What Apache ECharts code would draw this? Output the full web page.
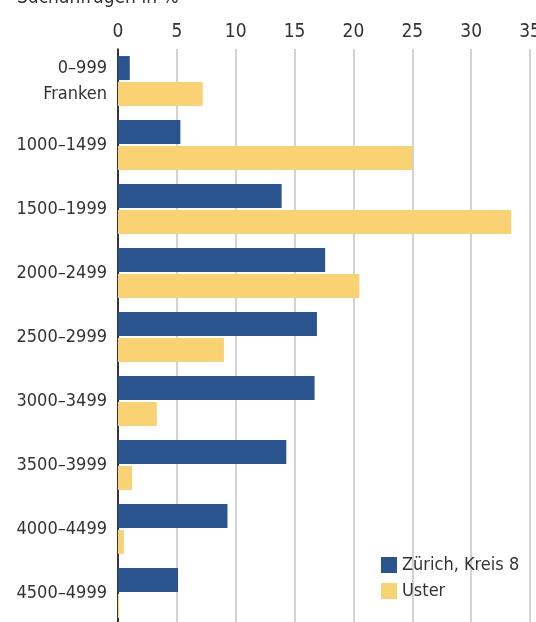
<!DOCTYPE html>
<html>
<head>
<meta charset="utf-8">
<script src="https://cdn.jsdelivr.net/npm/echarts@6/dist/echarts.min.js"></script>
<style>html,body{margin:0;padding:0;background:#fff}#c{width:536px;height:622px}</style>
</head>
<body>
<div id="c"></div>
<script>
var categories = ['0–999\nFranken','1000–1499','1500–1999','2000–2499','2500–2999','3000–3499','3500–3999','4000–4499','4500–4999'];
var zurich = [1.0, 5.3, 13.9, 17.6, 16.9, 16.7, 14.3, 9.3, 5.1];
var uster = [7.2, 25.0, 33.4, 20.5, 9.0, 3.3, 1.2, 0.5, 0.1];
var xTicks = [0, 5, 10, 15, 20, 25, 30, 35];
var FONT = "'Liberation Sans Narrow','DejaVu Sans Condensed','Roboto',sans-serif";
var chart = echarts.init(document.getElementById('c'));
chart.setOption({
  animation: false,
  textStyle: {fontFamily: FONT},
  title: {text: 'Suchanfragen in %', left: 17, top: -11, padding: 0, textStyle: {fontFamily: FONT, fontSize: 19, fontWeight: 'normal', color: '#333'}},
  legend: {
    orient: 'vertical', left: 381, top: 556, padding: 0, itemWidth: 16, itemHeight: 16, itemGap: 8,
    icon: 'rect',
    textStyle: {fontFamily: FONT, fontSize: 18, color: '#333'},
    data: ['Zürich, Kreis 8', 'Uster']
  },
  grid: {left: 118, top: 49, width: 412, height: 576, containLabel: false, outerBoundsMode: 'none'},
  xAxis: {
    type: 'value', position: 'top', min: xTicks[0], max: xTicks[xTicks.length-1], interval: 5,
    axisLine: {show: false}, axisTick: {show: false},
    axisLabel: {fontFamily: FONT, fontSize: 19, color: '#333', margin: 7},
    splitLine: {lineStyle: {color: '#c4c4c4', width: 1.5}}
  },
  yAxis: {
    type: 'category', inverse: true, data: categories,
    axisLine: {lineStyle: {color: '#000', width: 1.5}}, axisTick: {show: false},
    axisLabel: {fontFamily: FONT, fontSize: 18, color: '#333', margin: 11, lineHeight: 26, align: 'right'}
  },
  series: [
    {name: 'Zürich, Kreis 8', type: 'bar', data: zurich, barWidth: 24, barGap: '8%', itemStyle: {color: '#2a5490'}},
    {name: 'Uster', type: 'bar', data: uster, barWidth: 24, itemStyle: {color: '#f9d273'}}
  ]
});
</script>
</body>
</html>
